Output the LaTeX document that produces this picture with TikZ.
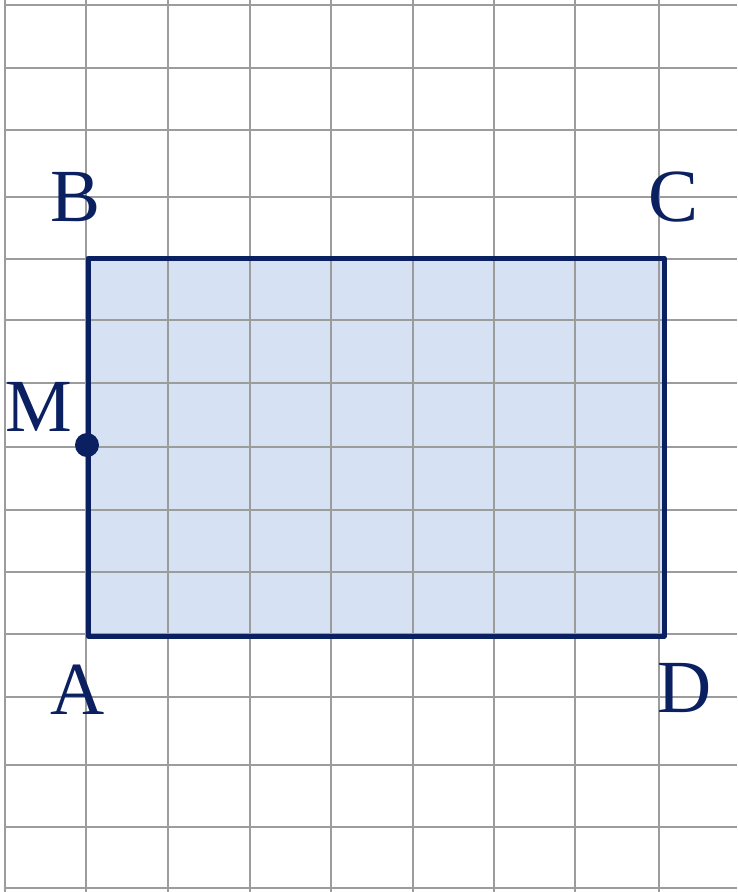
\documentclass[tikz,border=0pt]{standalone}
\usepackage{fontspec}
\setmainfont{Liberation Serif}
\definecolor{navy}{HTML}{0A2060}
\definecolor{fillblue}{HTML}{D6E2F4}
\definecolor{gridgray}{HTML}{9C9C9C}
\begin{document}
\begin{tikzpicture}[x=1pt,y=-1pt,
  gridline/.style={draw=gridgray,line width=1.8pt},
  lbl/.style={text=navy,inner sep=0pt,font=\fontsize{75}{75}\selectfont}]
\useasboundingbox[fill=white] (0,0) rectangle (737,892);
% rectangle fill
\fill[fillblue] (88,258) rectangle (664,636);
% grid
\foreach \x in {5,86,168,250,331,413,494,575,659}
  \draw[gridline] (\x,0) -- (\x,892);
\foreach \y in {5,68,130,197,259,320,383,447,510,572,634,697,765,827,888}
  \draw[gridline] (5,\y) -- (737,\y);
% rectangle border
\coordinate (A) at (88,636);
\coordinate (B) at (88,258);
\coordinate (C) at (664,258);
\coordinate (D) at (664,636);
\draw[navy,line width=5pt,line join=round] (A) -- (B) -- (C) -- (D) -- cycle;
% point M
\coordinate (M) at (87,445);
\fill[navy] (M) circle (12);
% labels
\node[lbl] (lB) at (76,197) {B};
\node[lbl] (lC) at (674,197) {C};
\node[lbl] (lM) at (39,407) {M};
\node[lbl] (lA) at (78,690) {A};
\node[lbl] (lD) at (685,688) {D};
\end{tikzpicture}
\end{document}
